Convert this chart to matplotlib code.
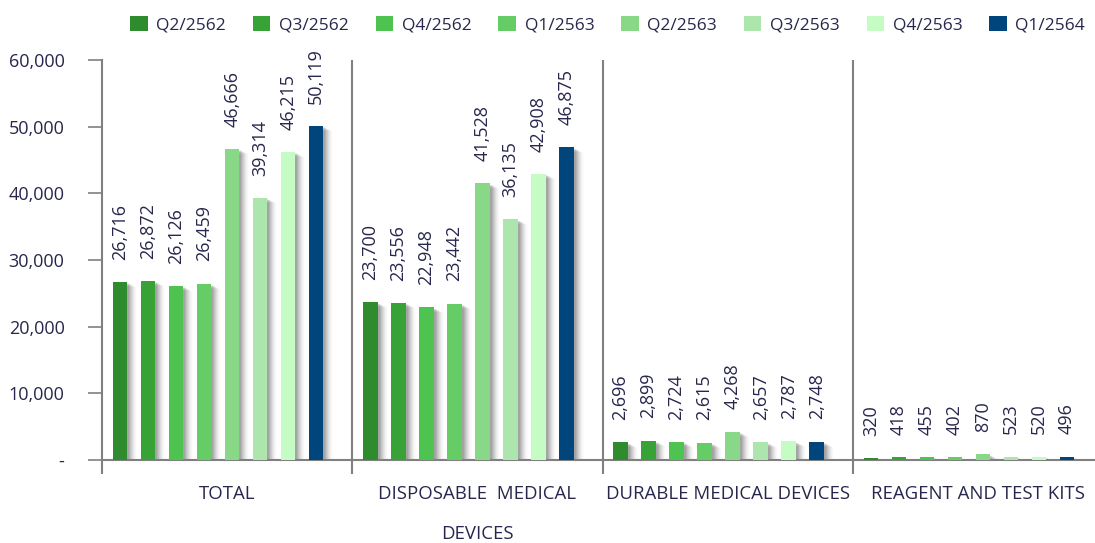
import matplotlib
matplotlib.use("Agg")
import matplotlib.pyplot as plt
from matplotlib.ticker import FuncFormatter
import matplotlib.transforms as mtrans
import numpy as np

categories = ["TOTAL", "DISPOSABLE  MEDICAL\nDEVICES", "DURABLE MEDICAL DEVICES", "REAGENT AND TEST KITS"]
series_names = ["Q2/2562", "Q3/2562", "Q4/2562", "Q1/2563", "Q2/2563", "Q3/2563", "Q4/2563", "Q1/2564"]
values = {
    "Q2/2562": [26716, 23700, 2696, 320],
    "Q3/2562": [26872, 23556, 2899, 418],
    "Q4/2562": [26126, 22948, 2724, 455],
    "Q1/2563": [26459, 23442, 2615, 402],
    "Q2/2563": [46666, 41528, 4268, 870],
    "Q3/2563": [39314, 36135, 2657, 523],
    "Q4/2563": [46215, 42908, 2787, 520],
    "Q1/2564": [50119, 46875, 2748, 496],
}
colors = ["#2e8b2e", "#37a337", "#4fc34f", "#66cc66", "#88d888", "#ade6ad", "#c4fcc4", "#00457c"]
yticks = [0, 10000, 20000, 30000, 40000, 50000, 60000]

TXT = "#27274d"
plt.rcParams['font.family'] = ['Open Sans', 'DejaVu Sans']

W, H = 1095, 543
fig = plt.figure(figsize=(W / 100, H / 100), dpi=100)
ax = fig.add_axes([102 / W, (H - 460) / H, 1001 / W, 400 / H])

cat_w_px = 250.0
px = 1.0 / cat_w_px  # one pixel in data x-units
bar_w = 14.5 * px
y_per_px = 60000 / 400.0

x0 = np.arange(len(categories))
for k, name in enumerate(series_names):
    xs = x0 + (18 + 28 * k) * px
    vals = np.array(values[name], dtype=float)
    # soft shadow to the right
    for s in range(1, 10):
        ax.bar(xs + (s + 1) * px, np.maximum(vals - (s * 0.5 + 1) * y_per_px, 0), width=bar_w,
               color="#000000", alpha=0.09 * (1 - s / 10), linewidth=0, zorder=1)
    ax.bar(xs, vals, width=bar_w, color=colors[k], linewidth=0, zorder=3, label=name)
    for x, v in zip(xs, vals):
        ax.annotate(f"{int(v):,}", (x, v), xytext=(0, 16), textcoords="offset points",
                    rotation=90, ha="center", va="bottom", fontsize=13, color=TXT, zorder=4)

ax.set_xlim(0, 4)
ax.set_ylim(0, 60000)
ax.set_yticks(yticks)
ax.yaxis.set_major_formatter(FuncFormatter(lambda v, p: "-" if v == 0 else f"{int(v):,}"))
ax.tick_params(axis="y", direction="out", length=10, width=1.2, color="#808080",
               labelsize=13, labelcolor=TXT, pad=17)
ax.set_xticks([0, 1, 2, 3, 4])
ax.set_xticklabels([])
ax.tick_params(axis="x", direction="out", length=10, width=1.5, color="#808080")

for sp in ["top", "right"]:
    ax.spines[sp].set_visible(False)
for sp in ["left", "bottom"]:
    ax.spines[sp].set_color("#808080")
    ax.spines[sp].set_linewidth(1.5)
for xv in [1, 2, 3]:
    ax.axvline(xv, ymin=0, ymax=1, color="#808080", linewidth=1.5, zorder=2)

trans = mtrans.blended_transform_factory(ax.transData, ax.transAxes)
off = mtrans.offset_copy(trans, fig=fig, x=0, y=-25, units="dots")
for i, c in enumerate(categories):
    ax.text(i + 0.5, 0, c, transform=off, ha="center", va="top", fontsize=13.4,
            color=TXT, linespacing=2.55, multialignment="center")

leg = fig.legend(loc="upper center", bbox_to_anchor=(0.555, 1.0), ncol=8, frameon=False,
                 fontsize=12.5, handlelength=1.0, handleheight=1.0, handletextpad=0.5,
                 columnspacing=1.55, labelcolor=TXT)

fig.savefig("out.png", dpi=100)
